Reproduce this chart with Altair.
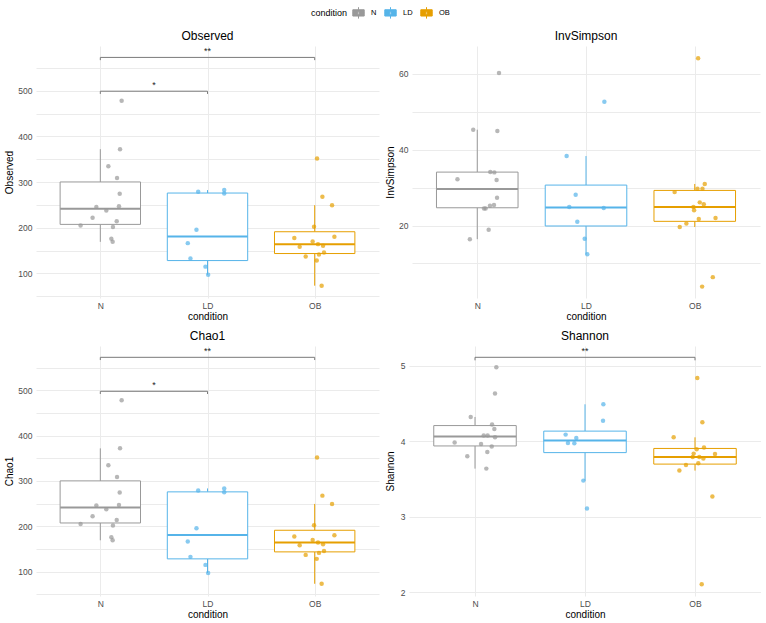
import altair as alt
import numpy as np
import pandas as pd

conditions = ["N", "LD", "OB"]
positions = [1, 2, 3]
palette = ["#999999", "#56B4E9", "#E69F00"]

# ---- Observed ----
observed_N = [478, 372, 334.6, 308.8, 274.3, 245.6, 247, 237.5, 222, 214, 205, 201.5, 175.7, 169]
observed_N_jit = [0.199, 0.184, 0.075, 0.156, 0.181, -0.037, 0.174, 0.056, -0.072, 0.153, -0.184, 0.118, 0.103, 0.115]
observed_LD = [278.7, 282.4, 275, 195.6, 166.2, 132.4, 114.7, 97]
observed_LD_jit = [-0.087, 0.156, 0.156, -0.103, -0.184, -0.159, -0.019, 0.006]
observed_OB = [351.5, 267.6, 249.3, 202.2, 177.2, 180.1, 169.9, 164, 158, 160.3, 145.6, 141.2, 136.8, 128, 73]
observed_OB_jit = [0.022, 0.072, 0.162, -0.006, -0.19, 0.184, -0.019, 0.031, -0.14, 0.078, 0.087, 0.04, -0.084, 0.019, 0.065]

# ---- Chao1 ----
chao1_N = [478, 372, 334.9, 308.8, 274.3, 245.6, 247, 237.5, 222, 214, 205, 201.5, 175.7, 169]
chao1_N_jit = [0.199, 0.184, 0.075, 0.156, 0.181, -0.037, 0.174, 0.056, -0.072, 0.153, -0.184, 0.118, 0.103, 0.115]
chao1_LD = [278.7, 283.5, 275, 195.6, 166.2, 132.4, 114.7, 97]
chao1_LD_jit = [-0.087, 0.156, 0.156, -0.103, -0.184, -0.159, -0.019, 0.006]
chao1_OB = [351.7, 267.6, 249.3, 202.2, 177.2, 180.1, 169.9, 164, 158, 160.3, 145.6, 141.2, 136.8, 128, 73]
chao1_OB_jit = [0.022, 0.072, 0.162, -0.006, -0.19, 0.184, -0.019, 0.031, -0.14, 0.078, 0.087, 0.04, -0.084, 0.019, 0.065]

# ---- InvSimpson ----
invsimpson_N = [60.2, 45.25, 44.9, 34.1, 34.0, 32.2, 32.0, 27.3, 25.4, 25.2, 24.5, 24.5, 18.9, 16.4]
invsimpson_N_jit = [0.2, -0.037, 0.185, 0.12, 0.157, -0.182, 0.178, 0.182, 0.154, 0.117, 0.062, 0.077, 0.105, -0.068]
invsimpson_LD = [52.6, 38.3, 28.1, 24.9, 24.6, 21.0, 16.5, 12.4]
invsimpson_LD_jit = [0.169, -0.178, -0.095, -0.154, 0.163, -0.08, -0.012, 0.012]
invsimpson_OB = [64.06, 30.95, 28.8, 29.7, 29.7, 26.1, 25.6, 24.9, 24.0, 22.0, 21.7, 20.5, 19.6, 6.4, 3.9]
invsimpson_OB_jit = [0.031, 0.092, -0.185, 0.025, 0.071, 0.046, 0.083, -0.012, -0.006, 0.191, 0.037, -0.077, -0.138, 0.166, 0.068]

# ---- Shannon ----
shannon_N = [4.982, 4.635, 4.324, 4.225, 4.165, 4.077, 4.077, 4.054, 3.984, 3.966, 3.931, 3.860, 3.803, 3.639]
shannon_N_jit = [0.194, 0.182, -0.039, 0.155, 0.176, 0.079, 0.115, 0.182, -0.185, 0.055, 0.152, 0.112, -0.07, 0.103]
shannon_LD = [4.492, 4.275, 4.090, 4.046, 3.979, 3.975, 3.480, 3.109]
shannon_LD_jit = [0.167, 0.164, -0.176, -0.079, -0.155, -0.097, -0.015, 0.018]
shannon_OB = [4.841, 4.253, 4.054, 3.918, 3.895, 3.834, 3.838, 3.794, 3.794, 3.772, 3.688, 3.710, 3.613, 3.268, 2.106]
shannon_OB_jit = [0.021, 0.067, -0.194, 0.082, 0.015, 0.182, -0.012, -0.021, 0.039, 0.076, -0.082, 0.03, -0.142, 0.158, 0.061]

# significance brackets
obs_brackets = {"x1": [1, 1], "x2": [2, 3], "y": [499, 573], "label": ["*", "**"], "tip": [6, 6]}
chao_brackets = {"x1": [1, 1], "x2": [2, 3], "y": [498, 573], "label": ["*", "**"], "tip": [6, 6]}
shan_brackets = {"x1": [1], "x2": [3], "y": [5.115], "label": ["**"], "tip": [0.04]}

FONT = "Liberation Sans"
GRID = "#EBEBEB"

legend_path = ("M-1,-0.55H1V0.55H-1Z M-1,0H1 M0,-0.55V-1 M0,0.55V1 "
               "M-0.22,0A0.22,0.22 0 1,0 0.22,0A0.22,0.22 0 1,0 -0.22,0")


def box_stats(vals):
    v = np.array(vals, dtype=float)
    q1, med, q3 = np.percentile(v, [25, 50, 75])
    iqr = q3 - q1
    lo = v[v >= q1 - 1.5 * iqr].min()
    hi = v[v <= q3 + 1.5 * iqr].max()
    return q1, med, q3, lo, hi


def panel(name, groups, jitters, domain, major, minor, brackets, width, height, min_extent=None):
    rows = []
    srows = []
    for cond, pos, vals, jits in zip(conditions, positions, groups, jitters):
        for v, j in zip(vals, jits):
            rows.append({"cond": cond, "pos": pos, "jit": j, "value": v})
        q1, med, q3, lo, hi = box_stats(vals)
        srows.append({"cond": cond, "pos": pos, "q1": q1, "med": med, "q3": q3, "lo": lo, "hi": hi})
    pts = pd.DataFrame(rows)
    stats = pd.DataFrame(srows)

    xs = alt.Scale(domain=[0.4, 3.6], nice=False, zero=False)
    ys = alt.Scale(domain=domain, nice=False, zero=False)
    major_s = "[" + ",".join(str(m) for m in major) + "]"
    extra = {} if min_extent is None else {"minExtent": min_extent}
    yaxis = alt.Axis(values=sorted(major + minor),
                     labelExpr=f"indexof({major_s}, datum.value) >= 0 ? datum.label : ''",
                     format="d", grid=True, gridColor=GRID, gridWidth=1, ticks=False, domain=False,
                     labelColor="#4D4D4D", labelFontSize=8.5, labelFont=FONT, labelPadding=4,
                     title=name, titleFont=FONT, titleFontSize=10, titleFontWeight="normal",
                     titleColor="#000000", titlePadding=3, **extra)
    xaxis = alt.Axis(values=positions, labelExpr="['', 'N', 'LD', 'OB'][datum.value]",
                     grid=True, gridColor=GRID, gridWidth=1, ticks=False, domain=False,
                     labelColor="#4D4D4D", labelFontSize=8.5, labelFont=FONT, labelPadding=3,
                     title="condition", titleFont=FONT, titleFontSize=10, titleFontWeight="normal",
                     titleColor="#000000", titlePadding=2)
    cscale = alt.Scale(domain=conditions, range=palette)
    stroke_enc = alt.Stroke("cond:N", scale=cscale,
                            legend=alt.Legend(title="condition", orient="none", direction="horizontal",
                                              legendX=275, legendY=-40, titleOrient="left",
                                              titleFont=FONT, titleFontSize=9, titleFontWeight="normal",
                                              titleColor="#000000", titlePadding=4,
                                              labelFont=FONT, labelFontSize=7.5, labelColor="#000000",
                                              symbolType=legend_path, symbolSize=130,
                                              symbolStrokeWidth=1, symbolFillColor="transparent",
                                              labelOffset=6, columnPadding=5))
    fill_enc = alt.Fill("cond:N", scale=cscale, legend=None)

    base_s = alt.Chart(stats)
    whisk_lo = base_s.mark_rule(strokeWidth=1).encode(
        x=alt.X("pos:Q", scale=xs, axis=xaxis), y=alt.Y("lo:Q", scale=ys, axis=yaxis), y2="q1:Q", stroke=stroke_enc)
    whisk_hi = base_s.mark_rule(strokeWidth=1).encode(
        x=alt.X("pos:Q", scale=xs, axis=xaxis), y=alt.Y("q3:Q", scale=ys, axis=yaxis), y2="hi:Q", stroke=stroke_enc)
    bx = base_s.transform_calculate(xl="datum.pos - 0.375", xr="datum.pos + 0.375")
    box_bg = bx.mark_rect(fill="white").encode(
        x=alt.X("xl:Q", scale=xs, axis=xaxis), x2="xr:Q",
        y=alt.Y("q1:Q", scale=ys, axis=yaxis), y2="q3:Q")
    box = bx.mark_rect(filled=False, strokeWidth=1).encode(
        x=alt.X("xl:Q", scale=xs, axis=xaxis), x2="xr:Q",
        y=alt.Y("q1:Q", scale=ys, axis=yaxis), y2="q3:Q", stroke=stroke_enc)
    med = bx.mark_rule(strokeWidth=2).encode(
        x=alt.X("xl:Q", scale=xs, axis=xaxis), x2="xr:Q",
        y=alt.Y("med:Q", scale=ys, axis=yaxis), stroke=stroke_enc)
    points = alt.Chart(pts).transform_calculate(xj="datum.pos + datum.jit").mark_circle(
        size=20, opacity=0.7).encode(
        x=alt.X("xj:Q", scale=xs, axis=xaxis), y=alt.Y("value:Q", scale=ys, axis=yaxis), fill=fill_enc)

    layers = [whisk_lo, whisk_hi, box_bg, box, med, points]
    if brackets is not None:
        bdf = pd.DataFrame(brackets)
        bb = alt.Chart(bdf).transform_calculate(ytip="datum.y - datum.tip", xm="(datum.x1 + datum.x2) / 2")
        hline = bb.mark_rule(color="#7A7A7A", strokeWidth=1).encode(
            x=alt.X("x1:Q", scale=xs, axis=xaxis), x2="x2:Q", y=alt.Y("y:Q", scale=ys, axis=yaxis))
        tip1 = bb.mark_rule(color="#7A7A7A", strokeWidth=1).encode(
            x=alt.X("x1:Q", scale=xs, axis=xaxis), y=alt.Y("y:Q", scale=ys, axis=yaxis), y2="ytip:Q")
        tip2 = bb.mark_rule(color="#7A7A7A", strokeWidth=1).encode(
            x=alt.X("x2:Q", scale=xs, axis=xaxis), y=alt.Y("y:Q", scale=ys, axis=yaxis), y2="ytip:Q")
        txt = bb.mark_text(font=FONT, fontSize=9, color="#222222", baseline="bottom", dy=-1).encode(
            x=alt.X("xm:Q", scale=xs, axis=xaxis), y=alt.Y("y:Q", scale=ys, axis=yaxis), text="label:N")
        layers += [hline, tip1, tip2, txt]

    return alt.layer(*layers).properties(
        width=width, height=height,
        title=alt.TitleParams(name, font=FONT, fontSize=12, fontWeight="normal", color="#000000",
                              anchor="middle", frame="group", offset=3))


p_obs = panel("Observed", [observed_N, observed_LD, observed_OB],
              [observed_N_jit, observed_LD_jit, observed_OB_jit],
              [46, 598], [100, 200, 300, 400, 500], [50, 150, 250, 350, 450, 550], obs_brackets, 343, 252)
p_inv = panel("InvSimpson", [invsimpson_N, invsimpson_LD, invsimpson_OB],
              [invsimpson_N_jit, invsimpson_LD_jit, invsimpson_OB_jit],
              [0.9, 67.3], [20, 40, 60], [10, 30, 50], None, 348, 252)
p_chao = panel("Chao1", [chao1_N, chao1_LD, chao1_OB],
               [chao1_N_jit, chao1_LD_jit, chao1_OB_jit],
               [46, 598], [100, 200, 300, 400, 500], [50, 150, 250, 350, 450, 550], chao_brackets, 343, 250)
p_shan = panel("Shannon", [shannon_N, shannon_LD, shannon_OB],
               [shannon_N_jit, shannon_LD_jit, shannon_OB_jit],
               [1.95, 5.265], [2, 3, 4, 5], [2.5, 3.5, 4.5], shan_brackets, 352, 250, min_extent=11)

row1 = alt.hconcat(p_obs, p_inv, spacing=6)
row2 = alt.hconcat(p_chao, p_shan, spacing=6)
chart = alt.vconcat(row1, row2, spacing=8).properties(
    padding={"left": 4, "top": 6, "right": 0, "bottom": 0}, background="white"
).configure_view(stroke=None, strokeWidth=0).configure_title(
    fontWeight="normal", font=FONT
).configure_axis(titleFontWeight="normal")

chart.save("out.html", embed_options={"renderer": "svg", "actions": False})
